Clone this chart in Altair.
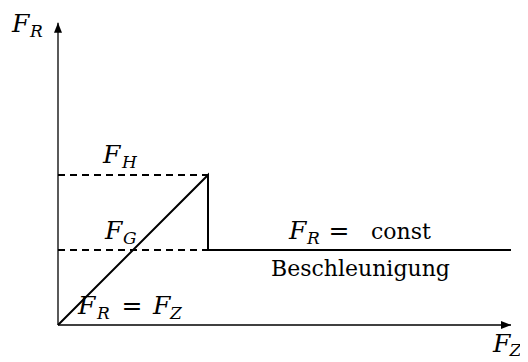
import altair as alt
import pandas as pd

# curve of friction force F_R over pulling force F_Z (units: F_G = 1)
F_G = 1.0
F_H = 2.0
path_x = [0.0, 2.0, 2.0, 6.04]
path_y = [0.0, 2.0, 1.0, 1.0]
x_axis_end = 6.04
y_axis_end = 4.03

# labels (data units)
big_italic_text = ["F", "F", "F", "F", "F", "F", "F"]
big_italic_x = [-0.613, 0.60, 0.627, 0.267, 1.267, 3.08, 5.80]
big_italic_y = [3.907, 2.16, 1.147, 0.147, 0.147, 1.147, -0.36]
sub_text = ["R", "H", "G", "R", "Z", "R", "Z"]
sub_x = [-0.373, 0.853, 0.867, 0.52, 1.493, 3.32, 6.02]
sub_y = [3.84, 2.093, 1.08, 0.08, 0.08, 1.08, -0.413]
eq_text = ["=", "="]
eq_x = [0.987, 3.747]
eq_y = [0.147, 1.147]
word_text = ["const", "Beschleunigung"]
word_x = [4.173, 2.84]
word_y = [1.147, 0.653]

W, H = 512, 354
PX = 75.0
xmin = (8 - 58) / PX
xmax = xmin + W / PX
ymax = (325 - 8) / PX
ymin = ymax - H / PX

xs = alt.Scale(domain=[xmin, xmax], nice=False, zero=False)
ys = alt.Scale(domain=[ymin, ymax], nice=False, zero=False)
X = lambda f: alt.X(f, type="quantitative", scale=xs, axis=None)
Y = lambda f: alt.Y(f, type="quantitative", scale=ys, axis=None)

path_df = pd.DataFrame({"x": path_x, "y": path_y, "o": list(range(len(path_x)))})
dash_df = pd.DataFrame({"x": [0.0, 0.0], "x2": [2.0, 2.0], "y": [F_H, F_G]})
axis_df = pd.DataFrame({"x": [0.0, 0.0], "x2": [x_axis_end, 0.0],
                        "y": [0.0, 0.0], "y2": [0.0, y_axis_end]})
arrow_up_df = pd.DataFrame({"x": [0.0], "y": [y_axis_end]})
arrow_right_df = pd.DataFrame({"x": [x_axis_end], "y": [0.0]})

axes = alt.Chart(axis_df).mark_rule(color="black", strokeWidth=1.3).encode(
    x=X("x"), x2="x2", y=Y("y"), y2="y2")
arrow_up = alt.Chart(arrow_up_df).mark_point(
    shape="M0,0L-0.4,1L0.4,1Z", size=400, filled=True, color="black", opacity=1
).encode(x=X("x"), y=Y("y"))
arrow_right = alt.Chart(arrow_right_df).mark_point(
    shape="M0,0L-1,-0.4L-1,0.4Z", size=400, filled=True, color="black", opacity=1
).encode(x=X("x"), y=Y("y"))

dashed = alt.Chart(dash_df).mark_rule(color="black", strokeWidth=2, strokeDash=[7, 5]).encode(
    x=X("x"), x2="x2", y=Y("y"))
path = alt.Chart(path_df).mark_line(color="black", strokeWidth=2, strokeJoin="miter").encode(
    x=X("x"), y=Y("y"), order="o:Q")

font = "DejaVu Serif"
t1 = alt.Chart(pd.DataFrame({"t": big_italic_text, "x": big_italic_x, "y": big_italic_y})).mark_text(
    font=font, fontSize=25, fontStyle="italic", align="left", baseline="alphabetic", color="black"
).encode(x=X("x"), y=Y("y"), text="t:N")
t2 = alt.Chart(pd.DataFrame({"t": sub_text, "x": sub_x, "y": sub_y})).mark_text(
    font=font, fontSize=17, fontStyle="italic", align="left", baseline="alphabetic", color="black"
).encode(x=X("x"), y=Y("y"), text="t:N")
t3 = alt.Chart(pd.DataFrame({"t": eq_text, "x": eq_x, "y": eq_y})).mark_text(
    font=font, fontSize=25, align="center", baseline="alphabetic", color="black"
).encode(x=X("x"), y=Y("y"), text="t:N")
t4 = alt.Chart(pd.DataFrame({"t": word_text, "x": word_x, "y": word_y})).mark_text(
    font=font, fontSize=22, align="left", baseline="alphabetic", color="black"
).encode(x=X("x"), y=Y("y"), text="t:N")

chart = alt.layer(axes, dashed, path, arrow_up, arrow_right, t1, t2, t3, t4).properties(
    width=W, height=H, padding=0, autosize=alt.AutoSizeParams(type="none"),
    background="white"
).configure_view(stroke=None)

chart.save("out.html", embed_options={"renderer": "svg", "actions": False})
